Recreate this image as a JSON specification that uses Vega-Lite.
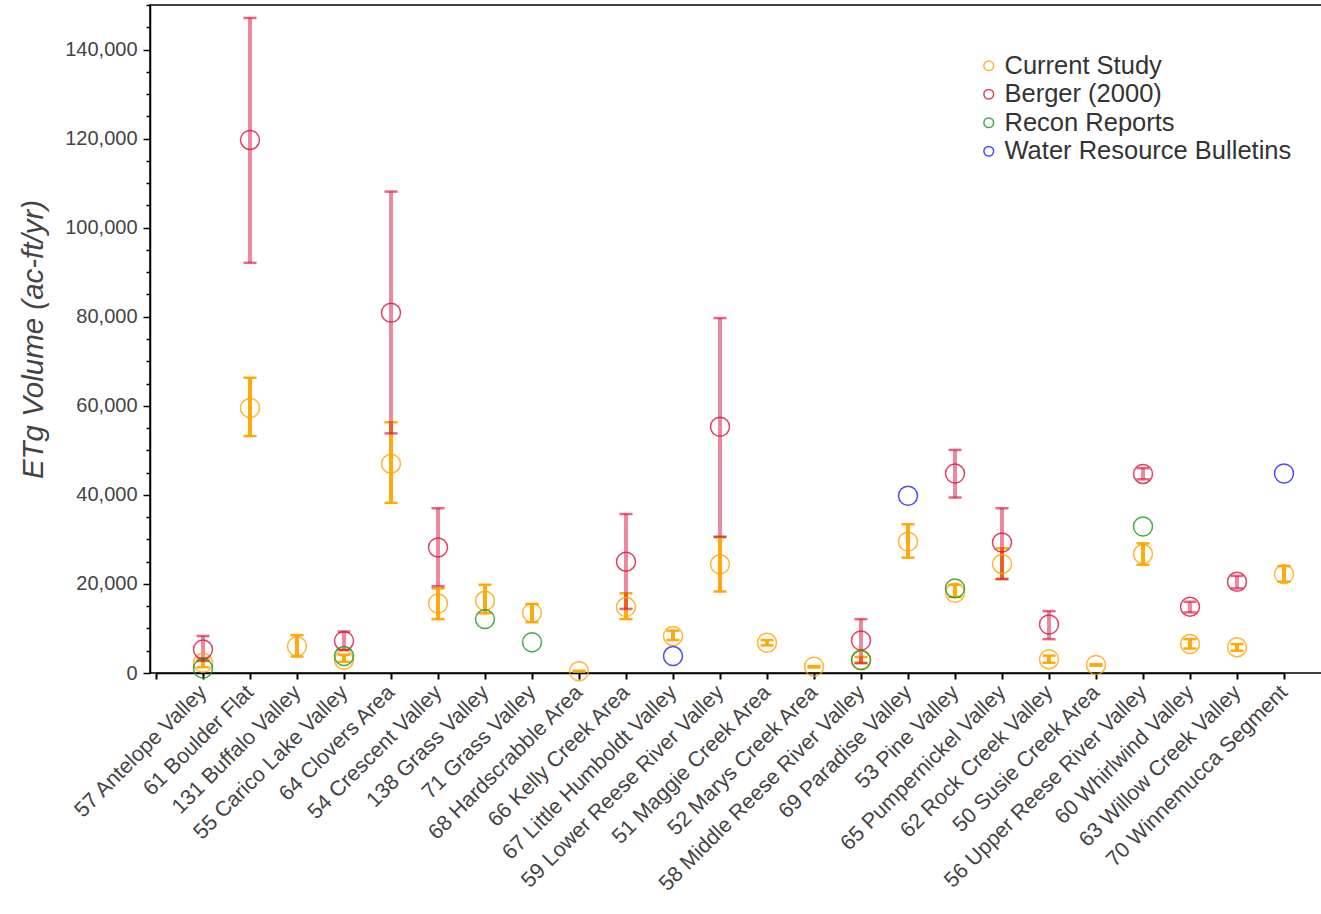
{
  "$schema": "https://vega.github.io/schema/vega-lite/v6.json",
  "autosize": "none",
  "width": 1180,
  "height": 668,
  "padding": {"left": 150, "top": 5, "right": 0, "bottom": 241},
  "background": "white",
  "config": {
    "font": "Liberation Sans",
    "view": {"stroke": "black", "strokeWidth": 1.5},
    "axis": {"domainColor": "black", "domainWidth": 1.5, "tickColor": "black", "grid": false, "labelColor": "#444", "titleColor": "#444"}
  },
  "data": {
    "values": [
      {"basin": "57 Antelope Valley", "source": "Current Study", "value": 2300, "lo": 1300, "hi": 3300},
      {"basin": "61 Boulder Flat", "source": "Current Study", "value": 59500, "lo": 53200, "hi": 66300},
      {"basin": "131 Buffalo Valley", "source": "Current Study", "value": 6000, "lo": 3700, "hi": 8500},
      {"basin": "55 Carico Lake Valley", "source": "Current Study", "value": 3000, "lo": 2500, "hi": 4100},
      {"basin": "64 Clovers Area", "source": "Current Study", "value": 47000, "lo": 38200, "hi": 56300},
      {"basin": "54 Crescent Valley", "source": "Current Study", "value": 15600, "lo": 12100, "hi": 19000},
      {"basin": "138 Grass Valley", "source": "Current Study", "value": 16200, "lo": 13400, "hi": 19800},
      {"basin": "71 Grass Valley", "source": "Current Study", "value": 13500, "lo": 11400, "hi": 15500},
      {"basin": "68 Hardscrabble Area", "source": "Current Study", "value": 400, "lo": 300, "hi": 500},
      {"basin": "66 Kelly Creek Area", "source": "Current Study", "value": 14800, "lo": 12100, "hi": 17900},
      {"basin": "67 Little Humboldt Valley", "source": "Current Study", "value": 8300, "lo": 7400, "hi": 9500},
      {"basin": "59 Lower Reese River Valley", "source": "Current Study", "value": 24400, "lo": 18300, "hi": 30500},
      {"basin": "51 Maggie Creek Area", "source": "Current Study", "value": 6800, "lo": 6200, "hi": 7400},
      {"basin": "52 Marys Creek Area", "source": "Current Study", "value": 1400, "lo": 1250, "hi": 1550},
      {"basin": "58 Middle Reese River Valley", "source": "Current Study", "value": 2900, "lo": 2300, "hi": 3600},
      {"basin": "69 Paradise Valley", "source": "Current Study", "value": 29500, "lo": 25900, "hi": 33400},
      {"basin": "53 Pine Valley", "source": "Current Study", "value": 18000, "lo": 17100, "hi": 19800},
      {"basin": "65 Pumpernickel Valley", "source": "Current Study", "value": 24500, "lo": 21100, "hi": 28000},
      {"basin": "62 Rock Creek Valley", "source": "Current Study", "value": 3100, "lo": 2300, "hi": 3900},
      {"basin": "50 Susie Creek Area", "source": "Current Study", "value": 1800, "lo": 1650, "hi": 1950},
      {"basin": "56 Upper Reese River Valley", "source": "Current Study", "value": 26700, "lo": 24300, "hi": 29100},
      {"basin": "60 Whirlwind Valley", "source": "Current Study", "value": 6500, "lo": 5500, "hi": 7600},
      {"basin": "63 Willow Creek Valley", "source": "Current Study", "value": 5800, "lo": 5000, "hi": 6500},
      {"basin": "70 Winnemucca Segment", "source": "Current Study", "value": 22200, "lo": 20500, "hi": 24000},

      {"basin": "57 Antelope Valley", "source": "Berger (2000)", "value": 5300, "lo": 2700, "hi": 8300},
      {"basin": "61 Boulder Flat", "source": "Berger (2000)", "value": 119700, "lo": 92100, "hi": 147100},
      {"basin": "55 Carico Lake Valley", "source": "Berger (2000)", "value": 7200, "lo": 5200, "hi": 9300},
      {"basin": "64 Clovers Area", "source": "Berger (2000)", "value": 80900, "lo": 53800, "hi": 108100},
      {"basin": "54 Crescent Valley", "source": "Berger (2000)", "value": 28200, "lo": 19500, "hi": 37000},
      {"basin": "66 Kelly Creek Area", "source": "Berger (2000)", "value": 25000, "lo": 14400, "hi": 35700},
      {"basin": "59 Lower Reese River Valley", "source": "Berger (2000)", "value": 55300, "lo": 30600, "hi": 79700},
      {"basin": "58 Middle Reese River Valley", "source": "Berger (2000)", "value": 7300, "lo": 2200, "hi": 12100},
      {"basin": "53 Pine Valley", "source": "Berger (2000)", "value": 44800, "lo": 39400, "hi": 50100},
      {"basin": "65 Pumpernickel Valley", "source": "Berger (2000)", "value": 29300, "lo": 21100, "hi": 37000},
      {"basin": "62 Rock Creek Valley", "source": "Berger (2000)", "value": 10900, "lo": 7600, "hi": 13900},
      {"basin": "56 Upper Reese River Valley", "source": "Berger (2000)", "value": 44700, "lo": 43500, "hi": 46000},
      {"basin": "60 Whirlwind Valley", "source": "Berger (2000)", "value": 14900, "lo": 13600, "hi": 16000},
      {"basin": "63 Willow Creek Valley", "source": "Berger (2000)", "value": 20500, "lo": 19000, "hi": 21800},

      {"basin": "57 Antelope Valley", "source": "Recon Reports", "value": 1000, "lo": null, "hi": null},
      {"basin": "55 Carico Lake Valley", "source": "Recon Reports", "value": 3800, "lo": null, "hi": null},
      {"basin": "138 Grass Valley", "source": "Recon Reports", "value": 12100, "lo": null, "hi": null},
      {"basin": "71 Grass Valley", "source": "Recon Reports", "value": 6900, "lo": null, "hi": null},
      {"basin": "58 Middle Reese River Valley", "source": "Recon Reports", "value": 2900, "lo": null, "hi": null},
      {"basin": "53 Pine Valley", "source": "Recon Reports", "value": 19000, "lo": null, "hi": null},
      {"basin": "56 Upper Reese River Valley", "source": "Recon Reports", "value": 32900, "lo": null, "hi": null},

      {"basin": "67 Little Humboldt Valley", "source": "Water Resource Bulletins", "value": 3800, "lo": null, "hi": null},
      {"basin": "69 Paradise Valley", "source": "Water Resource Bulletins", "value": 39800, "lo": null, "hi": null},
      {"basin": "70 Winnemucca Segment", "source": "Water Resource Bulletins", "value": 44800, "lo": null, "hi": null}
    ]
  },
  "encoding": {
    "x": {
      "field": "basin",
      "type": "nominal",
      "sort": null,
      "scale": {
        "type": "point",
        "padding": 0,
        "range": [6, 1134],
        "domain": ["", "57 Antelope Valley", "61 Boulder Flat", "131 Buffalo Valley", "55 Carico Lake Valley", "64 Clovers Area", "54 Crescent Valley", "138 Grass Valley", "71 Grass Valley", "68 Hardscrabble Area", "66 Kelly Creek Area", "67 Little Humboldt Valley", "59 Lower Reese River Valley", "51 Maggie Creek Area", "52 Marys Creek Area", "58 Middle Reese River Valley", "69 Paradise Valley", "53 Pine Valley", "65 Pumpernickel Valley", "62 Rock Creek Valley", "50 Susie Creek Area", "56 Upper Reese River Valley", "60 Whirlwind Valley", "63 Willow Creek Valley", "70 Winnemucca Segment"]
      },
      "axis": {"title": null, "labelAngle": -45, "labelAlign": "right", "labelBaseline": "middle", "labelFontSize": 21.5, "labelLimit": 0, "labelPadding": 10, "tickSize": 6, "tickWidth": 2}
    }
  },
  "layer": [
    {
      "transform": [{"filter": "datum.source === 'Current Study'"}],
      "mark": {"type": "rule", "color": "#FFA500", "strokeWidth": 4, "opacity": 0.95},
      "encoding": {
        "y": {"field": "lo", "type": "quantitative"},
        "y2": {"field": "hi"}
      }
    },
    {
      "transform": [{"filter": "datum.source === 'Current Study'"}, {"fold": ["lo", "hi"], "as": ["end", "bound"]}],
      "mark": {"type": "tick", "orient": "horizontal", "color": "#FFA500", "size": 13, "thickness": 2.5, "opacity": 0.95},
      "encoding": {"y": {"field": "bound", "type": "quantitative"}}
    },
    {
      "transform": [{"filter": "datum.source === 'Berger (2000)'"}],
      "mark": {"type": "rule", "color": "#DC143C", "strokeWidth": 4, "opacity": 0.5},
      "encoding": {
        "y": {"field": "lo", "type": "quantitative"},
        "y2": {"field": "hi"}
      }
    },
    {
      "transform": [{"filter": "datum.source === 'Berger (2000)'"}, {"fold": ["lo", "hi"], "as": ["end", "bound"]}],
      "mark": {"type": "tick", "orient": "horizontal", "color": "#DC143C", "size": 13, "thickness": 2.5, "opacity": 0.65},
      "encoding": {"y": {"field": "bound", "type": "quantitative"}}
    },
    {
      "mark": {"type": "point", "shape": "circle", "filled": false, "size": 360, "strokeWidth": 1.5, "opacity": 0.8},
      "encoding": {
        "y": {
          "field": "value",
          "type": "quantitative",
          "scale": {"domain": [0, 150000], "nice": false, "zero": true},
          "axis": {
            "title": "ETg Volume (ac-ft/yr)",
            "titleFontSize": 29.5,
            "titleFontStyle": "italic",
            "titleFontWeight": "normal",
            "titlePadding": 16,
            "tickCount": 30,
            "labelExpr": "datum.value % 20000 === 0 ? format(datum.value, ',') : ''",
            "labelFontSize": 20,
            "labelPadding": 6,
            "tickSize": {"condition": {"test": "datum.value % 20000 === 0", "value": 7}, "value": 4},
            "tickWidth": 1.5
          }
        },
        "color": {
          "field": "source",
          "type": "nominal",
          "scale": {
            "domain": ["Current Study", "Berger (2000)", "Recon Reports", "Water Resource Bulletins"],
            "range": ["#FFA500", "#DC143C", "#1E961E", "#1E1EFF"]
          },
          "legend": {
            "title": null,
            "orient": "none",
            "legendX": 826,
            "legendY": 48,
            "padding": 0,
            "labelFontSize": 25.5,
            "labelLimit": 0,
            "labelColor": "#333",
            "labelOffset": 3,
            "symbolType": "circle",
            "symbolSize": 95,
            "symbolStrokeWidth": 1.5,
            "rowPadding": 1.5
          }
        }
      }
    }
  ]
}
